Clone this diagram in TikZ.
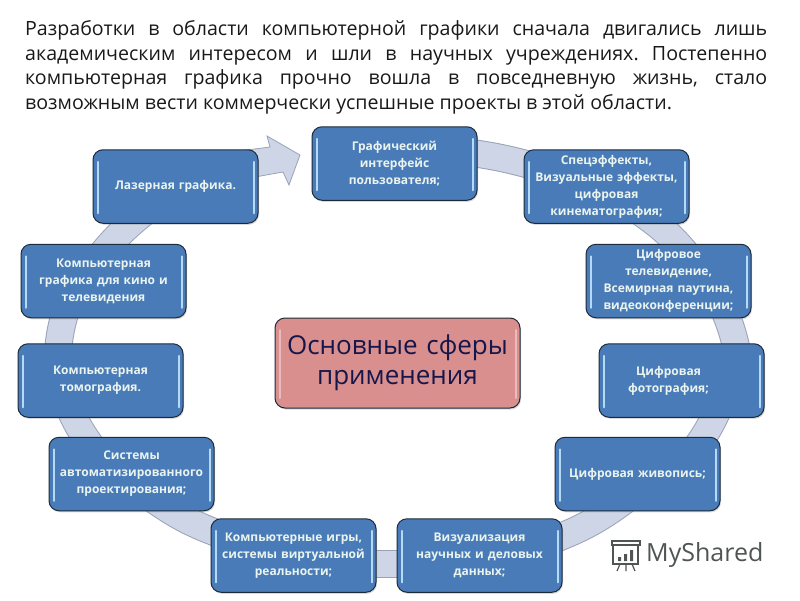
\documentclass[tikz,border=0pt]{standalone}
\usepackage{fontspec}
\setmainfont{Open Sans}
\usetikzlibrary{shadows,backgrounds}
\definecolor{boxblue}{HTML}{4A7BB9}
\definecolor{boxline}{HTML}{1C2B3A}
\definecolor{boxshine}{HTML}{B5DAF5}
\definecolor{boxtext}{HTML}{EAF4EE}
\definecolor{bandfill}{HTML}{CDD5E6}
\definecolor{bandline}{HTML}{99A3B8}
\definecolor{pinkfill}{HTML}{D98F8E}
\definecolor{navytext}{HTML}{16164A}
\definecolor{logogray}{HTML}{4F5552}
\tikzset{
  shine/.style={path picture={
    \draw[#1,line width=2pt,line cap=round]
      ([xshift=4.5pt,yshift=-12pt]path picture bounding box.north west) --
      ([xshift=4.5pt,yshift=10pt]path picture bounding box.south west);
    \draw[#1,line width=2pt,line cap=round]
      ([xshift=-4.5pt,yshift=-12pt]path picture bounding box.north east) --
      ([xshift=-4.5pt,yshift=10pt]path picture bounding box.south east);
  }},
  topic/.style={draw=boxline,line width=1pt,fill=boxblue,rounded corners=10pt,
    minimum width=165pt,minimum height=73.5pt,text width=155pt,inner sep=0pt,
    align=center,text=boxtext,font=\fontsize{12}{17}\selectfont\bfseries,
    drop shadow={shadow xshift=1pt,shadow yshift=-1.5pt,opacity=.3},shine=boxshine},
  hub/.style={draw=boxline,line width=1pt,fill=pinkfill,rounded corners=10pt,
    minimum width=245pt,minimum height=90pt,text width=235pt,inner sep=0pt,
    align=center,text=navytext,font=\fontsize{26}{30}\selectfont,
    drop shadow={shadow xshift=1pt,shadow yshift=-1.5pt,opacity=.3},shine=pinkfill!60!white},
  bandout/.style={line width=28pt,color=bandline},
  bandin/.style={line width=26pt,color=bandfill},
}
\newcommand{\ringband}[3]{%
  \draw[bandout] #1 #3 #2;
  \draw[bandin] #1 #3 #2;}
\begin{document}
\begin{tikzpicture}[x=1pt,y=-1pt]
\useasboundingbox (0,0) rectangle (800,600);

\node[anchor=north west,inner sep=0pt,text width=742pt,align=justify,
  font=\fontsize{19.6}{24.8}\selectfont\frenchspacing,text=black!90] (intro) at (25,20)
  {Разработки в области компьютерной графики сначала двигались лишь\linebreak
   академическим интересом и шли в научных учреждениях. Постепенно\linebreak
   компьютерная графика прочно вошла в повседневную жизнь, стало\linebreak
   возможным вести коммерчески успешные проекты в этой области.};

\node[topic] (gui) at (394.5,163.5) {Графический\\интерфейс\\пользователя;};
\node[topic] (spec) at (606.5,186.5) {Спецэффекты,\\Визуальные эффекты,\\цифровая\\кинематография;};
\node[topic] (tv) at (668.5,281) {Цифровое\\телевидение,\\Всемирная паутина,\\видеоконференции;};
\node[topic] (foto) at (681.5,380.5) {Цифровая\hspace*{26pt}\mbox{}\\фотография;\hspace*{26pt}\mbox{}};
\node[topic] (paint) at (637.5,474) {Цифровая живопись;};
\node[topic] (viz) at (479.5,555.5) {Визуализация\\научных и деловых\\данных;};
\node[topic] (games) at (293.5,555.5) {Компьютерные игры,\\системы виртуальной\\реальности;};
\node[topic] (cad) at (131.5,474) {Системы\\автоматизированного\\проектирования;};
\node[topic] (tomo) at (100.5,380.5) {Компьютерная\\томография.};
\node[topic] (kino) at (103.5,281) {Компьютерная\\графика для кино и\\телевидения};
\node[topic] (laser) at (175.5,186.5) {Лазерная графика.};
\node[hub] (hub) at (397.5,363) {Основные сферы\\применения};

\begin{scope}[on background layer]
  \ringband{([shift={(-3.5,-25)}]kino.center)}{([shift={(-29.5,24.5)}]laser.center)}{to[bend left=6]}
  \ringband{([shift={(-37.5,29)}]kino.center)}{([shift={(-42.5,-28.5)}]tomo.center)}{to[bend right=6]}
  \ringband{([shift={(-32.5,24.5)}]tomo.center)}{([shift={(-39.5,-27)}]cad.center)}{to[bend right=6]}
  \ringband{([shift={(18.5,23)}]cad.center)}{([shift={(-68.5,-19.5)}]games.center)}{to[bend right=8]}
  \ringband{([shift={(60,8)}]games.center)}{([shift={(-60,8)}]viz.center)}{--}
  \ringband{([shift={(70.5,-14.5)}]viz.center)}{([shift={(-9.5,24)}]paint.center)}{to[bend right=8]}
  \ringband{([shift={(57.5,-25)}]paint.center)}{([shift={(38.5,24.5)}]foto.center)}{to[bend right=6]}
  \ringband{([shift={(56.5,-24.5)}]foto.center)}{([shift={(53.5,24)}]tv.center)}{to[bend right=6]}
  \ringband{([shift={(21.5,-23)}]tv.center)}{([shift={(33.5,25.5)}]spec.center)}{to[bend right=8]}
  \ringband{([shift={(-69.5,-19.5)}]spec.center)}{([shift={(70.5,-11.5)}]gui.center)}{to[bend right=4]}
  \coordinate (tip) at (300,155);
  \draw[fill=bandfill,draw=bandline,line width=.8pt]
    ([shift={(60,-35)}]laser.center) -- (270,147) -- (267,136) -- (tip) -- (289,185)
    -- (283,172) -- ([shift={(60,-6)}]laser.center) -- cycle;
\end{scope}

% MyShared logo
\node[anchor=west,inner sep=0pt,text=logogray,font=\fontsize{25}{28}\selectfont] (logotext) at (646,555) {MyShared};
\draw[logogray,line width=1.5pt,fill=white] (612,541) -- (640,541) -- (640,545) -- (612,545) -- cycle;
\draw[logogray,line width=1.5pt] (613,545) rectangle (638,564);
\fill[logogray] (618,557) rectangle (621,561) (624,554) rectangle (627,561) (630,550) rectangle (633,561);
\draw[logogray,line width=1.2pt] (620,564) -- (617,571) (626,564) -- (626,571) (632,564) -- (635,571);
\end{tikzpicture}
\end{document}
